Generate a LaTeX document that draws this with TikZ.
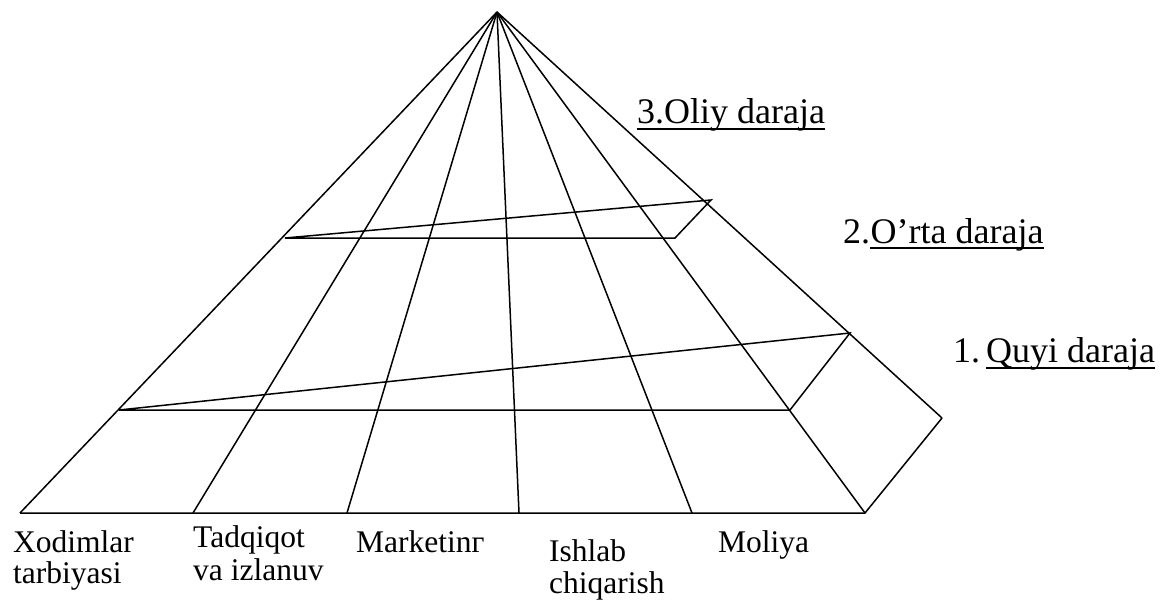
\documentclass[tikz,border=0pt]{standalone}
\usepackage{fontspec}
\setmainfont{Liberation Serif}
\begin{document}
\begin{tikzpicture}[x=1pt,y=-1pt,
  edge/.style={line width=1.5pt,line join=miter,black},
  lbl/.style={anchor=base west,inner sep=0pt,font=\fontsize{31.5}{33}\selectfont},
  lvl/.style={anchor=base west,inner sep=0pt,font=\fontsize{36}{40}\selectfont},
  uline/.style={line width=1.4pt}]
\useasboundingbox (0,0) rectangle (1165,600);
% points
\coordinate (A) at (497,12);
\coordinate (B0) at (20,513);
\coordinate (B1) at (193,513);
\coordinate (B2) at (347,513);
\coordinate (B3) at (519,513);
\coordinate (B4) at (692,513);
\coordinate (B5) at (865,513);
\coordinate (R) at (942,418);
\coordinate (L1) at (119,410);
\coordinate (H1) at (790,410);
\coordinate (P1) at (850,333);
\coordinate (L2) at (285,238);
\coordinate (H2) at (675,238);
\coordinate (P2) at (711,200);
% pyramid
\draw[edge] (A) -- (B0);
\draw[edge] (A) -- (B1);
\draw[edge] (A) -- (B2);
\draw[edge] (A) -- (B3);
\draw[edge] (A) -- (B4);
\draw[edge] (A) -- (B5);
\draw[edge] (A) -- (R);
\draw[edge] (B0) -- (B5) -- (R);
\draw[edge] (L1) -- (H1) -- (P1) -- cycle;
\draw[edge] (L2) -- (H2) -- (P2) -- cycle;
% bottom labels
\node[lbl] (x1) at (13,552) {Xodimlar};
\node[lbl] (x2) at (13,583) {tarbiyasi};
\node[lbl] (t1) at (193,547) {Tadqiqot};
\node[lbl] (t2) at (193,580) {va izlanuv};
\node[lbl] (m1) at (356,552) {Marketinг};
\node[lbl] (i1) at (549,561) {Ishlab};
\node[lbl] (i2) at (549,593) {chiqarish};
\node[lbl] (o1) at (718,552) {Moliya};
% level labels
\node[lvl] (l3) at (637,123) {3.Oliy daraja};
\draw[uline] ([yshift=-6pt]l3.base west) -- ([yshift=-6pt]l3.base east);
\node[lvl] (l2n) at (843,243) {2.};
\node[lvl] (l2t) at (l2n.base east) {O’rta daraja};
\draw[uline] ([yshift=-5pt]l2t.base west) -- ([yshift=-5pt]l2t.base east);
\node[lvl] (l1n) at (953,362) {1.};
\node[lvl] (l1t) at (986,362) {Quyi daraja};
\draw[uline] ([yshift=-6pt]l1t.base west) -- ([yshift=-6pt]l1t.base east);
\end{tikzpicture}
\end{document}
